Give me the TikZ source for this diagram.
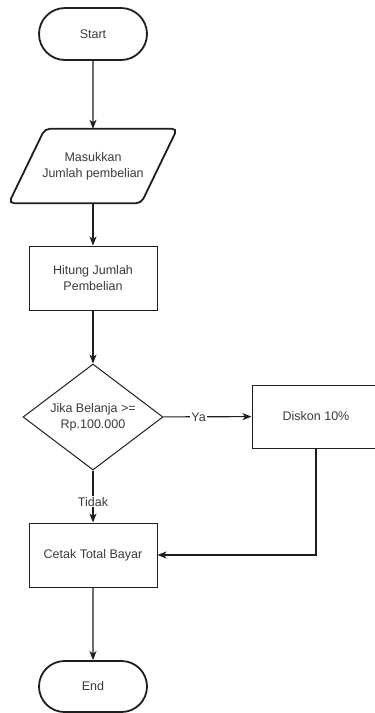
\documentclass[tikz,border=0pt]{standalone}
\usepackage{fontspec}
\setmainfont{Liberation Sans}
\usetikzlibrary{arrows.meta,shapes.geometric,shapes.misc,calc}

\definecolor{linec}{HTML}{1E1E1E}
\definecolor{textc}{HTML}{3A3A3A}

\tikzset{
  base/.style={align=center, text=textc, font=\fontsize{12.5}{16}\selectfont, inner sep=0pt},
  terminal/.style={base, draw=linec, line width=1.8pt, rounded rectangle, minimum width=108, minimum height=52},
  procbox/.style={base, draw=linec, line width=1pt, rectangle, minimum width=128, minimum height=64},
  decision/.style={base, draw=linec, line width=1pt, diamond, minimum width=140, minimum height=106, aspect=1.32},
  ioframe/.style={base, minimum width=168, minimum height=74},
  flow/.style={draw=linec, line width=1.1pt, -{Stealth[length=9pt,width=7pt,inset=2.5pt]}},
  edgelabel/.style={base, fill=white, inner sep=1pt}
}

\begin{document}
\begin{tikzpicture}[x=1pt,y=-1pt]
  \useasboundingbox (0,0) rectangle (375,713);
  \clip (0,0) rectangle (375,713);

  % nodes
  \node[terminal] (start) at (93,34) {Start};
  \node[ioframe] (input) at (93,166) {Masukkan\\Jumlah pembelian};
  \draw[draw=linec, line width=1.8pt, rounded corners=5pt]
    ($(input.north west)+(36,0)$) -- (input.north east)
    -- ($(input.south east)-(36,0)$) -- (input.south west) -- cycle;
  \node[procbox] (hitung) at (93,278) {Hitung Jumlah\\Pembelian};
  \node[decision] (cek) at (93,417) {Jika Belanja >=\\Rp.100.000};
  \node[procbox, minimum height=63] (diskon) at (316,416.5) {Diskon 10\%};
  \node[procbox] (cetak) at (93,555) {Cetak Total Bayar};
  \node[terminal, minimum height=51] (end) at (93,686.5) {End};

  % connectors
  \draw[flow] (start) -- (input.north);
  \draw[flow] (input.south) -- (hitung);
  \draw[flow] (hitung) -- (cek);
  \draw[flow] (cek) -- node[edgelabel, pos=0.4] {Ya} (diskon);
  \draw[flow] (cek) -- node[edgelabel, pos=0.6] {Tidak} (cetak);
  \draw[flow] (diskon.south) |- (cetak.east);
  \draw[flow] (cetak) -- (end);
\end{tikzpicture}
\end{document}
